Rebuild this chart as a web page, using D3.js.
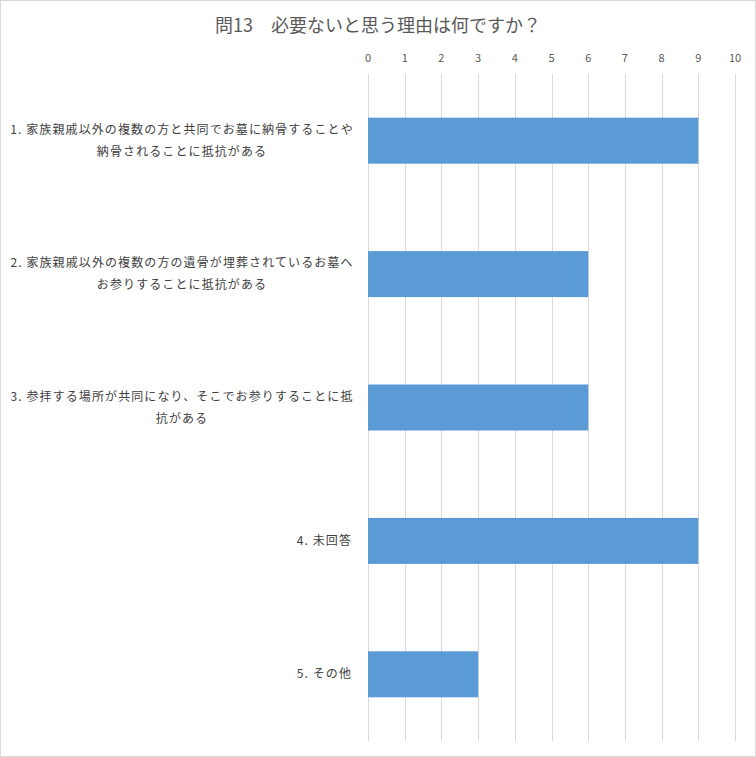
<!DOCTYPE html>
<html>
<head>
<meta charset="utf-8" />
<title>問13</title>
<script src="https://d3js.org/d3.v7.min.js"></script>
<style>
    body { margin: 0; background: #fff; }
    svg text { font-family: "Noto Sans CJK JP", "Noto Sans", sans-serif; }
</style>
</head>
<body>
<div id="chart"></div>
<script>
    // values
    var title = "問13　必要ないと思う理由は何ですか？";
    var categories = [
        ["1. 家族親戚以外の複数の方と共同でお墓に納骨することや", "納骨されることに抵抗がある"],
        ["2. 家族親戚以外の複数の方の遺骨が埋葬されているお墓へ", "お参りすることに抵抗がある"],
        ["3. 参拝する場所が共同になり、そこでお参りすることに抵", "抗がある"],
        ["4. 未回答"],
        ["5. その他"]
    ];
    var values = [9, 6, 6, 9, 3];
    var ticks = [0, 1, 2, 3, 4, 5, 6, 7, 8, 9, 10];

    var width = 756, height = 757;
    var svg = d3.select("#chart").append("svg")
        .attr("width", width)
        .attr("height", height);

    // outer border
    svg.append("rect")
        .attr("x", 0.5).attr("y", 0.5)
        .attr("width", width - 1).attr("height", height - 1)
        .attr("fill", "#fff")
        .attr("stroke", "#d9d9d9");

    svg.append("text")
        .attr("x", 378).attr("y", 32)
        .attr("text-anchor", "middle")
        .style("font-size", "18px")
        .style("fill", "#595959")
        .text(title);

    var x = d3.scaleLinear().domain([0, 10]).range([368, 735]);
    var y = d3.scaleBand()
        .domain(d3.range(values.length))
        .range([74, 741])
        .paddingInner(0.655)
        .paddingOuter(0.3275);

    // gridlines
    svg.selectAll("line.grid")
        .data(ticks)
        .enter().append("line")
        .attr("class", "grid")
        .attr("x1", function (d) { return Math.round(x(d)) + 0.5; })
        .attr("x2", function (d) { return Math.round(x(d)) + 0.5; })
        .attr("y1", 74).attr("y2", 741)
        .attr("stroke", "#d9d9d9");

    // tick labels at the top
    svg.selectAll("text.tick")
        .data(ticks)
        .enter().append("text")
        .attr("class", "tick")
        .attr("x", function (d) { return x(d); })
        .attr("y", 62)
        .attr("text-anchor", "middle")
        .style("font-size", "11px")
        .style("fill", "#595959")
        .text(function (d) { return d; });

    // bars
    svg.selectAll("rect.bar")
        .data(values)
        .enter().append("rect")
        .attr("class", "bar")
        .attr("x", x(0))
        .attr("y", function (d, i) { return y(i); })
        .attr("width", function (d) { return x(d) - x(0); })
        .attr("height", y.bandwidth())
        .attr("fill", "#5b9bd5");

    // category labels, wrapped ones centred as a block, right edge at 352
    var lineH = 22;
    categories.forEach(function (lines, i) {
        var cy = y(i) + y.bandwidth() / 2;
        var g = svg.append("g");
        var top = cy - (lines.length - 1) * lineH / 2;
        lines.forEach(function (s, j) {
            g.append("text")
                .attr("x", lines.length > 1 ? 182 : 352)
                .attr("y", top + j * lineH + 4)
                .attr("text-anchor", lines.length > 1 ? "middle" : "end")
                .style("font-size", "12px")
                .style("letter-spacing", "1.1px")
                .style("fill", "#404040")
                .text(s);
        });
    });
</script>
</body>
</html>
